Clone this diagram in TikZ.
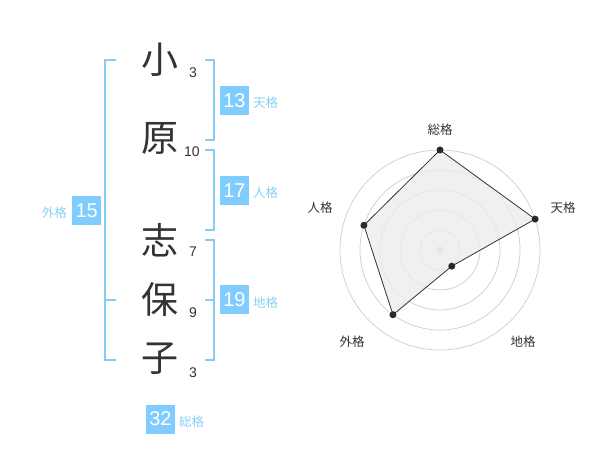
\documentclass[tikz,border=0pt]{standalone}
\usepackage{fontspec}
\setmainfont{Liberation Sans}
\newfontfamily\cjk{Noto Sans CJK JP}
\definecolor{brk}{HTML}{86CCF5}
\definecolor{boxc}{HTML}{80CCFF}
\definecolor{lab}{HTML}{88CFF5}
\definecolor{ink}{HTML}{333333}
\definecolor{ringc}{HTML}{CCCCCC}
\begin{document}
\begin{tikzpicture}[x=1pt,y=-1pt,
  bigch/.style={font=\cjk\fontsize{37}{37}\selectfont, text=ink, inner sep=0pt},
  num/.style={font=\fontsize{14}{14}\selectfont, text=ink, inner sep=0pt},
  valbox/.style={fill=boxc, text=white, minimum width=29pt, minimum height=29pt, inner sep=0pt, font=\fontsize{20}{20}\selectfont},
  kaku/.style={font=\cjk\fontsize{12.5}{12.5}\selectfont, text=lab, inner sep=0pt, anchor=west},
  bracket/.style={draw=brk, line width=2pt},
  rlab/.style={font=\cjk\fontsize{12.5}{12.5}\selectfont, text=ink, inner sep=0pt},
  dot/.style={circle, fill=ink!80!black, inner sep=0pt, minimum size=7pt}]
\useasboundingbox (0,0) rectangle (600,470);
% characters
\node[bigch] (c1) at (160,60) {小};
\node[bigch] (c2) at (160,138.5) {原};
\node[bigch] (c3) at (160,240) {志};
\node[bigch] (c4) at (160,299) {保};
\node[bigch] (c5) at (160,359) {子};
\node[num] (n1) at (193,73) {3};
\node[num] (n2) at (192,152) {10};
\node[num] (n3) at (193,252) {7};
\node[num] (n4) at (193,313) {9};
\node[num] (n5) at (193,373) {3};
% left bracket
\draw[bracket] (116,60) -- (105,60) -- (105,360) -- (116,360);
\draw[bracket] (105,300) -- (116,300);
% right brackets
\draw[bracket] (205,60) -- (214,60) -- (214,140) -- (205,140);
\draw[bracket] (205,150) -- (214,150) -- (214,230) -- (205,230);
\draw[bracket] (205,240) -- (214,240) -- (214,360) -- (205,360);
\draw[bracket] (205,300) -- (214,300);
% value boxes
\node[valbox] (b13) at (234.5,100.5) {13};
\node[kaku] (k13) at (253,103) {天格};
\node[valbox] (b17) at (234.5,190.5) {17};
\node[kaku] (k17) at (253,193) {人格};
\node[valbox] (b19) at (234.5,300) {19};
\node[kaku] (k19) at (253,303) {地格};
\node[valbox] (b15) at (86.7,210.5) {15};
\node[kaku, anchor=east] (k15) at (67,213) {外格};
\node[valbox] (b32) at (160.5,419) {32};
\node[kaku] (k32) at (179,422) {総格};
% radar
\coordinate (O) at (440,250);
\foreach \r in {20,40,60,80,100} \draw[draw=ringc, line width=0.7pt] (O) circle[radius=\r pt];
\fill[ringc] (O) circle[radius=3.5pt];
\coordinate (vS) at (440,150);
\coordinate (vT) at ({440+100*cos(18)},{250-100*sin(18)});
\coordinate (vC) at ({440+20*cos(54)},{250+20*sin(54)});
\coordinate (vG) at ({440-80*cos(54)},{250+80*sin(54)});
\coordinate (vJ) at ({440-80*cos(18)},{250-80*sin(18)});
\draw[fill=gray!15, fill opacity=0.8, draw=ink, line width=0.8pt] (vS) -- (vT) -- (vC) -- (vG) -- (vJ) -- cycle;
\foreach \p in {vS,vT,vC,vG,vJ} \node[dot] at (\p) {};
\node[rlab] (l1) at (440,130) {総格};
\node[rlab] (l2) at (563,208) {天格};
\node[rlab] (l3) at (523,342) {地格};
\node[rlab] (l4) at (352,342) {外格};
\node[rlab] (l5) at (320,208) {人格};
\end{tikzpicture}
\end{document}
